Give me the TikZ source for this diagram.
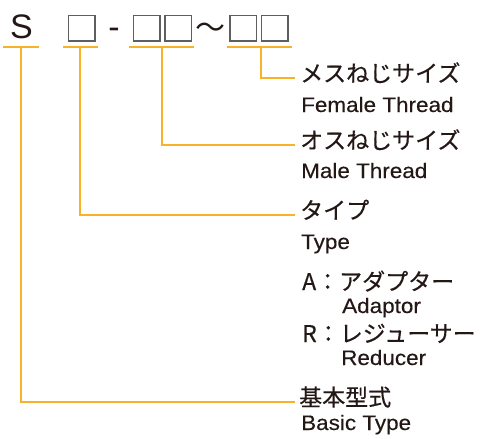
\documentclass[tikz,border=0pt]{standalone}
\usepackage{fontspec}
\setmainfont{Liberation Sans}
\newfontfamily\jpfont[FakeBold=0.4]{Noto Sans CJK JP}
\newfontfamily\jpplain{Noto Sans CJK JP}
\newfontfamily\latinw[FakeStretch=1.07,FakeBold=0.3]{Liberation Sans}
\definecolor{ink}{RGB}{35,24,21}
\definecolor{leadc}{RGB}{248,178,40}
\definecolor{slotgray}{RGB}{95,95,95}
\tikzset{
  jp/.style={font=\jpfont\fontsize{23}{23}\selectfont, inner sep=0pt, text=ink, anchor=west, text height=0.88em, text depth=0.12em},
  jpb/.style={font=\jpfont\fontsize{23}{23}\selectfont, inner sep=0pt, text=ink, anchor=base west},
  en/.style={font=\latinw\fontsize{21}{24}\selectfont, inner sep=0pt, text=ink, anchor=base west},
  big/.style={font=\fontsize{34}{34}\selectfont, inner sep=0pt, text=ink},
  lead/.style={draw=leadc, line width=1.3pt},
  slot/.style={draw=slotgray, line width=1.6pt, minimum width=26.5pt, minimum height=25.5pt, inner sep=0pt, anchor=north west}
}
\begin{document}
\begin{tikzpicture}[x=1pt,y=-1pt]
\useasboundingbox (0,0) rectangle (480,439);
% code line
\node[big, anchor=base] (s) at (21.5,38.6) {S};
\node[slot] (b1) at (67.8,14.8) {};
\node[big, anchor=base] (dash) at (114,38.6) {-};
\node[slot] (b2) at (132.5,14.8) {};
\node[slot] (b3) at (164.0,14.8) {};
\node[font=\jpplain\fontsize{30}{30}\selectfont, inner sep=0pt, text=ink, anchor=center, text height=0.88em, text depth=0.12em] (tl) at (210.5,34.5) {〜};
\node[slot] (b4) at (229.0,14.8) {};
\node[slot] (b5) at (260.6,14.8) {};
% underlines
\draw[lead] (3,47) -- (39,47);
\draw[lead] (63,47) -- (98,47);
\draw[lead] (129,47) -- (194,47);
\draw[lead] (227,47) -- (292,47);
\coordinate (u1) at (21,47);
\coordinate (u2) at (80,47);
\coordinate (u3) at (162,47);
\coordinate (u4) at (261,47);
% labels
\node[jp] (fjp) at (300,78) {メスねじサイズ};
\node[en] (fen) at (301,112) {Female Thread};
\node[jp] (mjp) at (300,145) {オスねじサイズ};
\node[en] (men) at (301,178) {Male Thread};
\node[jp] (tjp) at (300,215) {タイプ};
\node[en] (ten) at (301,249) {Type};
\node[jpb] (ajp) at (302,290) {A：アダプター};
\node[en] (aen) at (342,313) {Adaptor};
\node[jpb] (rjp) at (302,342) {R：レジューサー};
\node[en] (ren) at (341,365) {Reducer};
\node[jp] (bjp) at (299,402) {基本型式};
\node[en] (ben) at (301,430) {Basic Type};
% connectors
\draw[lead] (u4) |- ([xshift=-5pt]fjp.west);
\draw[lead] (u3) |- ([xshift=-5pt]mjp.west);
\draw[lead] (u2) |- ([xshift=-5pt]tjp.west);
\draw[lead] (u1) |- ([xshift=-4pt]bjp.west);
\end{tikzpicture}
\end{document}
